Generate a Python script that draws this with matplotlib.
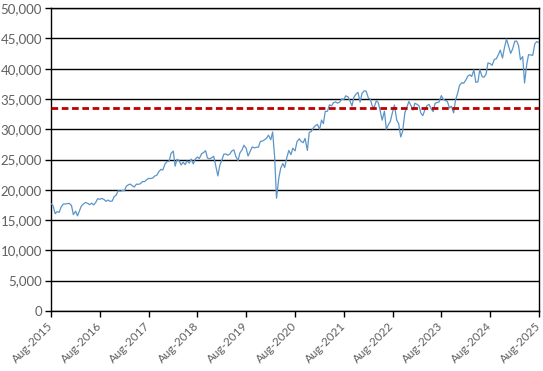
import pandas as pd
import matplotlib
matplotlib.use("Agg")
import matplotlib.pyplot as plt
import matplotlib.dates as mdates
import matplotlib.transforms as mtrans
from matplotlib.ticker import FuncFormatter, MultipleLocator

# index level, sampled on the 1st and 15th of each month (Aug-2015 .. Aug-2025)
start_value = [17690]
y2015 = [17450, 16050, 16400, 16280, 17140, 17660, 17650, 17720, 17750, 17420]
y2016 = [15900, 16470, 15700, 16520, 17330, 17690, 17900, 17770, 17550, 17790,
         17500, 17930, 18530, 18430, 18580, 18400, 18100, 18310, 18100, 18140,
         18870, 19120, 19850, 19760]
y2017 = [19880, 19860, 20610, 20810, 20950, 20660, 20450, 20940, 20900, 21010,
         21360, 21350, 21640, 21890, 21860, 21950, 22270, 22410, 22960, 23380,
         23270, 24270, 24650, 24720]
y2018 = [26000, 26400, 23900, 25030, 24870, 24100, 24570, 24160, 24770, 24420,
         25080, 24270, 25060, 25420, 25160, 25960, 26150, 26460, 25250, 25120,
         25290, 25540, 24100, 22300]
y2019 = [24000, 25000, 25880, 25920, 25710, 25930, 26410, 26590, 25530, 24820,
         26090, 26600, 27360, 26860, 25580, 26400, 27080, 26920, 27020, 27050,
         28000, 28050, 28240, 28540]
y2020 = [29030, 28260, 29550, 25410, 18600, 21920, 23540, 24350, 23690, 25380,
         26500, 25810, 26870, 26430, 27930, 28430, 27990, 27780, 28490, 26500,
         29480, 29640, 30200, 30610]
y2021 = [30810, 29980, 31520, 30930, 32950, 32980, 34040, 33870, 34380, 34530,
         34300, 34500, 34990, 34940, 35520, 35360, 34750, 33840, 35290, 35820,
         36090, 34480, 35930, 36340]
y2022 = [36300, 35130, 34990, 33890, 33540, 34680, 34450, 32980, 31500, 32990,
         30000, 30780, 31290, 32850, 34000, 31510, 30960, 28730, 29630, 32730,
         33590, 34590, 33970, 33150]
y2023 = [34300, 34090, 33870, 32660, 32250, 33270, 33890, 34100, 33430, 32910,
         34300, 34410, 34510, 35560, 34950, 34720, 34620, 33510, 33800, 32700,
         34830, 35950, 37250, 37690]
y2024 = [37590, 38150, 38770, 39000, 38710, 39810, 37750, 37820, 39870, 38690,
         38590, 39120, 40950, 40840, 40560, 41560, 41620, 42330, 43080, 41760,
         43440, 44910, 43830, 42540]
y2025 = [43220, 44540, 44560, 43840, 41490, 42000, 37650, 40670, 42320, 42270,
         42200, 44100, 44480, 44300]

values = start_value + y2015 + y2016 + y2017 + y2018 + y2019 + y2020 + y2021 + y2022 + y2023 + y2024 + y2025
dates = pd.date_range("2015-08-01", periods=len(values), freq="SMS")

ref_level = 33450

plt.rcParams["font.family"] = ["Lato", "DejaVu Sans"]

fig = plt.figure(figsize=(5.43, 3.71), dpi=100)
ax = fig.add_axes([0.094, 0.162, 0.8986, 0.816])

ax.plot(dates, values, color="#5B95C8", lw=0.9, zorder=3)
ax.axhline(ref_level, color="#C00000", lw=2.0, linestyle=(0, (2.4, 1.3)), zorder=4)

ax.set_ylim(0, 50000)
ax.set_xlim(pd.Timestamp("2015-08-01"), pd.Timestamp("2025-08-01"))
ax.yaxis.set_major_locator(MultipleLocator(5000))
ax.yaxis.set_major_formatter(FuncFormatter(lambda v, p: f"{int(v):,}"))
ax.xaxis.set_major_locator(mdates.MonthLocator(bymonth=8, bymonthday=1))
ax.xaxis.set_major_formatter(mdates.DateFormatter("%b-%Y"))

ax.grid(axis="y", color="black", lw=1.0, zorder=1)
for s in ax.spines.values():
    s.set_color("black")
    s.set_linewidth(1.0)

ax.tick_params(axis="both", colors="black", labelcolor="#606060",
               length=4, width=1.0, direction="out")
ax.tick_params(axis="y", labelsize=9.5, pad=2.5)
ax.tick_params(axis="x", labelsize=8.5, pad=2)
shift = mtrans.ScaledTranslation(-3 / 72, -1 / 72, fig.dpi_scale_trans)
for lbl in ax.get_xticklabels():
    lbl.set_rotation(45)
    lbl.set_ha("right")
    lbl.set_va("top")
    lbl.set_rotation_mode("anchor")
    lbl.set_transform(lbl.get_transform() + shift)

fig.savefig("out.png", dpi=100)
